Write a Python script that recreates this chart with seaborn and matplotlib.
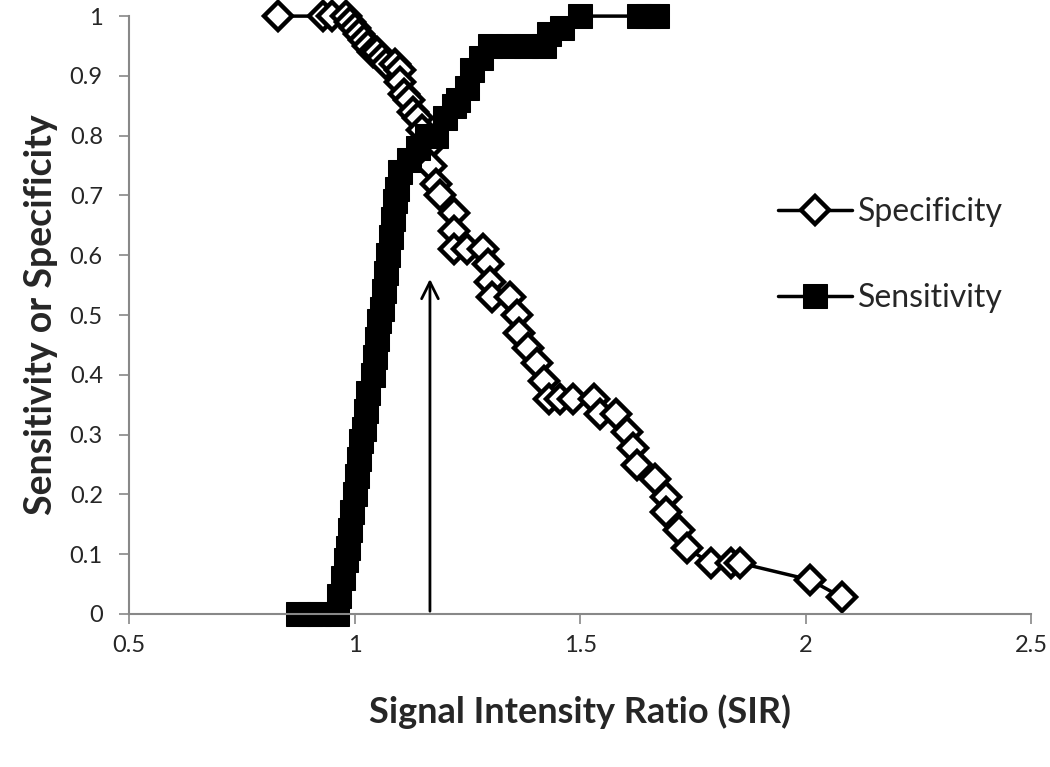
import pandas as pd
import numpy as np
import matplotlib
matplotlib.use("Agg")
import matplotlib.pyplot as plt
import seaborn as sns

# =========================
# Data
# =========================
sens_x = [0.875, 0.90, 0.92, 0.96, 0.965, 0.975, 0.98, 0.985, 0.99, 0.995,
          1.00, 1.005, 1.01, 1.015, 1.02, 1.025, 1.03, 1.04, 1.045, 1.05,
          1.055, 1.06, 1.065, 1.07, 1.075, 1.08, 1.085, 1.09, 1.095, 1.10,
          1.12, 1.14, 1.16, 1.18, 1.20, 1.22, 1.23, 1.25, 1.26, 1.28,
          1.30, 1.34, 1.38, 1.42, 1.43, 1.46, 1.50, 1.63, 1.65, 1.67]
sens_y = [0.0, 0.0, 0.0, 0.0, 0.03, 0.06, 0.09, 0.11, 0.14, 0.17,
          0.20, 0.23, 0.26, 0.29, 0.31, 0.34, 0.37, 0.40, 0.43, 0.46,
          0.49, 0.51, 0.54, 0.57, 0.60, 0.63, 0.66, 0.69, 0.71, 0.74,
          0.76, 0.78, 0.80, 0.80, 0.83, 0.85, 0.86, 0.88, 0.91, 0.93,
          0.95, 0.95, 0.95, 0.95, 0.97, 0.98, 1.0, 1.0, 1.0, 1.0]

spec_x = [0.83, 0.93, 0.95, 0.98, 0.99, 1.00, 1.01, 1.02, 1.03, 1.04,
          1.05, 1.06, 1.07, 1.09, 1.10, 1.10, 1.11, 1.12, 1.13, 1.14,
          1.15, 1.16, 1.17, 1.18, 1.19, 1.22, 1.22, 1.22, 1.25, 1.285,
          1.295, 1.30, 1.305, 1.345, 1.36, 1.365, 1.385, 1.405, 1.42, 1.43,
          1.455, 1.485, 1.53, 1.545, 1.58, 1.605, 1.617, 1.626, 1.665, 1.69,
          1.69, 1.72, 1.737, 1.79, 1.835, 1.855, 2.01, 2.08]
spec_y = [1.0, 1.0, 1.0, 1.0, 0.99, 0.98, 0.97, 0.96, 0.95, 0.94,
          0.94, 0.93, 0.92, 0.92, 0.91, 0.89, 0.87, 0.86, 0.84, 0.83,
          0.81, 0.78, 0.75, 0.72, 0.70, 0.67, 0.64, 0.61, 0.61, 0.61,
          0.585, 0.555, 0.53, 0.53, 0.50, 0.47, 0.445, 0.42, 0.39, 0.36,
          0.36, 0.36, 0.36, 0.335, 0.335, 0.305, 0.278, 0.25, 0.225, 0.195,
          0.17, 0.14, 0.11, 0.085, 0.085, 0.085, 0.057, 0.028]

cutoff_x = 1.167
cutoff_top = 0.565

x_ticks = [0.5, 1, 1.5, 2, 2.5]
x_tick_labels = ["0.5", "1", "1.5", "2", "2.5"]
y_ticks = [0, 0.1, 0.2, 0.3, 0.4, 0.5, 0.6, 0.7, 0.8, 0.9, 1.0]
y_tick_labels = ["0", "0.1", "0.2", "0.3", "0.4", "0.5", "0.6", "0.7", "0.8", "0.9", "1"]

# =========================
# Plotting
# =========================
sns.set_style("white")
plt.rcParams['font.family'] = ['Lato', 'DejaVu Sans']

fig = plt.figure(figsize=(10.5, 7.67), dpi=100)
ax = fig.add_axes([0.123, 0.1995, 0.859, 0.7795])

sns.lineplot(x=spec_x, y=spec_y, ax=ax, estimator=None, sort=False,
             color='black', linewidth=2.5, marker='D', markersize=14,
             markerfacecolor='white', markeredgecolor='black',
             markeredgewidth=3.2, label='Specificity', clip_on=False)
sns.lineplot(x=sens_x, y=sens_y, ax=ax, estimator=None, sort=False,
             color='black', linewidth=2.5, marker='s', markersize=17,
             markerfacecolor='black', markeredgecolor='black',
             label='Sensitivity', clip_on=False)

# Cut-off arrow
ax.annotate('', xy=(cutoff_x, cutoff_top), xytext=(cutoff_x, 0),
            arrowprops=dict(arrowstyle='->', color='black', lw=2,
                            mutation_scale=30))

ax.set_xlim(0.5, 2.5)
ax.set_ylim(0, 1)
ax.set_xticks(x_ticks)
ax.set_xticklabels(x_tick_labels)
ax.set_yticks(y_ticks)
ax.set_yticklabels(y_tick_labels)
ax.tick_params(axis='both', labelsize=17, length=7, width=1.2,
               color='#888888', direction='out', bottom=True, left=True)
ax.tick_params(axis='x', pad=8)
ax.tick_params(axis='y', pad=12)

for side in ['top', 'right']:
    ax.spines[side].set_visible(False)
for side in ['left', 'bottom']:
    ax.spines[side].set_color('#888888')
    ax.spines[side].set_linewidth(1.5)

ax.set_xlabel('Signal Intensity Ratio (SIR)', fontsize=26, fontweight='bold',
              labelpad=28)
ax.set_ylabel('Sensitivity or Specificity', fontsize=27, fontweight='bold',
              labelpad=8)

leg = ax.legend(loc='center left', bbox_to_anchor=(0.688, 0.60),
                frameon=False, fontsize=23, labelspacing=1.75,
                handlelength=2.3, handletextpad=0.2)

fig.savefig('out.png', dpi=100)
plt.close(fig)
